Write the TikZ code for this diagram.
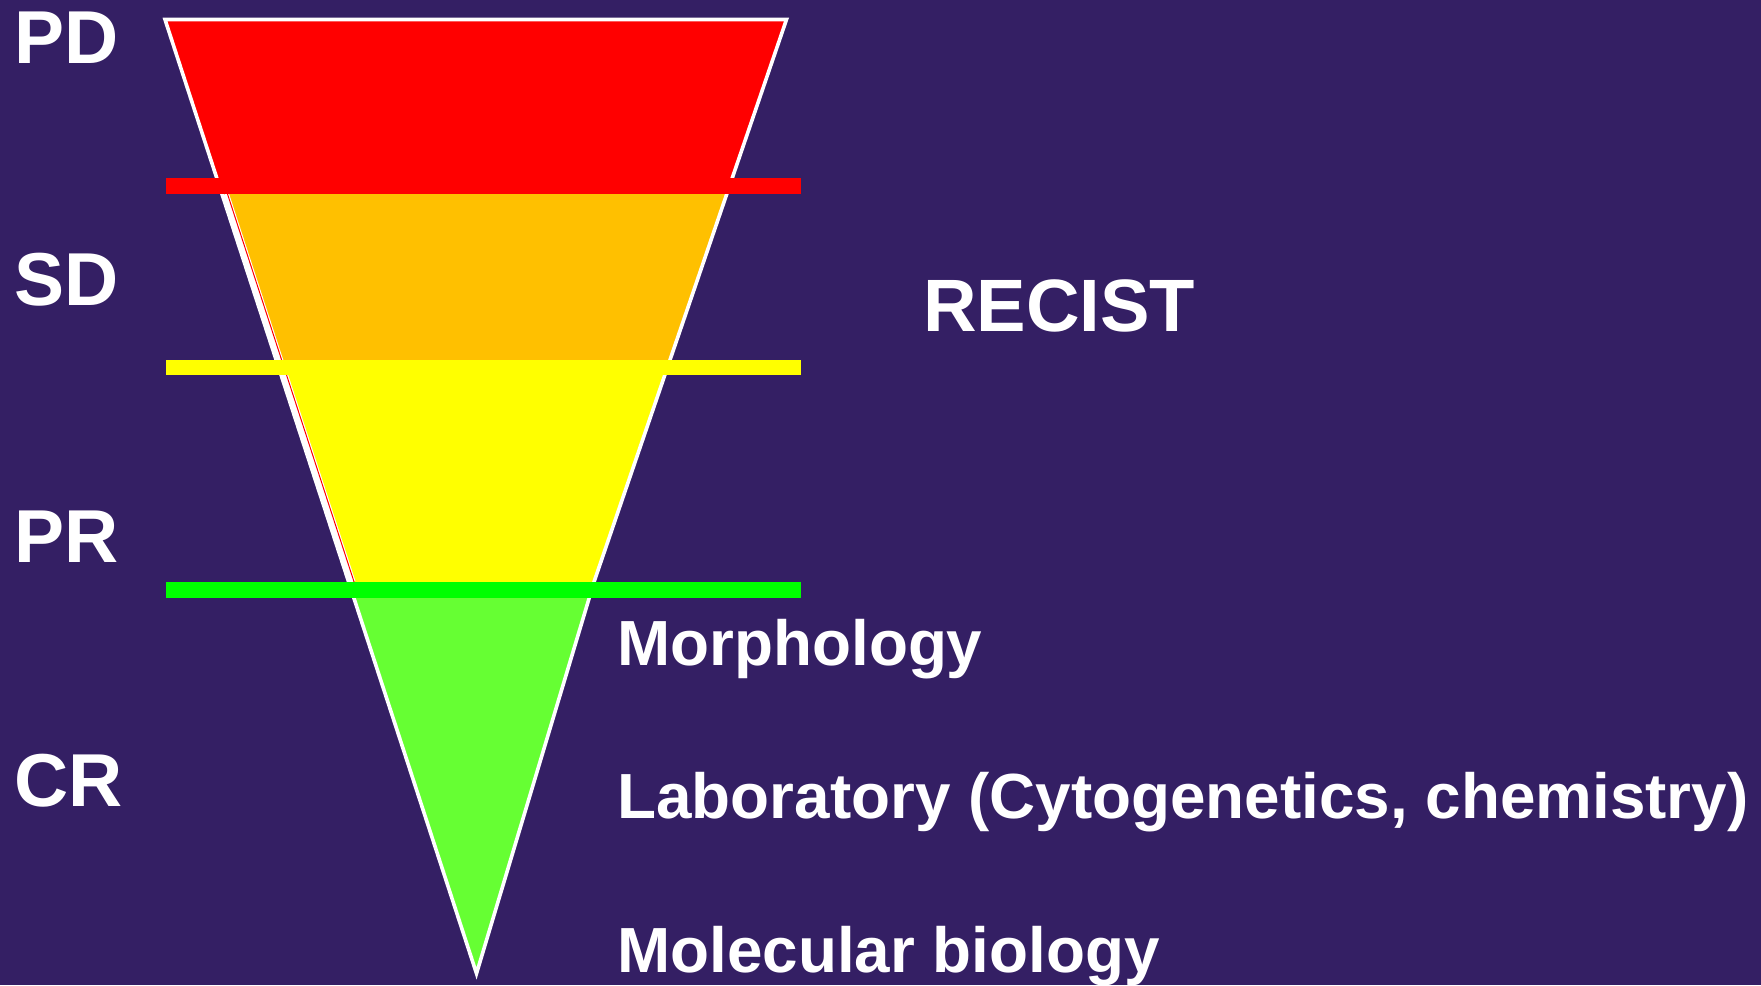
\documentclass[tikz,border=0pt]{standalone}
\usepackage{fontspec}
\setmainfont{Liberation Sans}
\definecolor{bg}{RGB}{52,31,100}
\definecolor{cred}{RGB}{255,0,0}
\definecolor{corange}{RGB}{255,192,0}
\definecolor{cyellow}{RGB}{255,255,0}
\definecolor{cgreen}{RGB}{102,255,51}
\definecolor{cgreenbar}{RGB}{0,255,0}
\tikzset{
  lab/.style={text=white, anchor=base west, inner sep=0pt, outer sep=0pt,
    font=\fontsize{37.5}{45}\selectfont\bfseries},
  bigtxt/.style={text=white, anchor=base west, inner sep=0pt, outer sep=0pt,
    font=\fontsize{37.1}{44}\selectfont\bfseries},
  bodytxt/.style={text=white, anchor=base west, inner sep=0pt, outer sep=0pt,
    font=\fontsize{31.9}{38}\selectfont\bfseries},
  outline/.style={draw=white, line width=1.8pt, line join=miter}
}
\begin{document}
\begin{tikzpicture}[x=0.5pt,y=-0.5pt]
\fill[bg] (0,0) rectangle (1761,985);
\useasboundingbox (0,0) rectangle (1761,985);
% funnel corners
\coordinate (tl) at (165,19.5);
\coordinate (tr) at (786.5,19.5);
\coordinate (kr) at (594,582);
\coordinate (ap) at (476.5,973.5);
% funnel bands
\begin{scope}
  \clip (tl) -- (tr) -- (kr) -- (ap) -- cycle;
  \fill[cred] (0,0) rectangle (1761,190);
  \fill[corange] (0,190) rectangle (1761,368);
  \fill[cyellow] (0,368) rectangle (1761,590);
  \fill[cgreen] (0,590) rectangle (1761,985);
\end{scope}
% funnel outline
\draw[outline] (tl) -- (tr) -- (kr) -- (ap) -- cycle;
% misregistered inner edge on the left
\draw[white, line width=3pt] (226,194) -- (352.6,582);
\draw[cred, line width=0.5pt] (227.5,194) -- (354.1,582);
% threshold bars
\fill[cred] (166,178.3) rectangle (801,193.7);
\fill[cyellow] (166,360) rectangle (801,375.3);
\fill[cgreenbar] (166,582) rectangle (801,597.7);
% labels
\node[lab] (PD) at (14,63.5) {PD};
\node[lab] (SD) at (14,305) {SD};
\node[lab] (PR) at (14,562) {PR};
\node[lab] (CR) at (14,806.5) {CR};
\node[bigtxt] (recist) at (923,331) {RECIST};
\node[bodytxt] (morph) at (617.4,665) {Morphology};
\node[bodytxt] (labo) at (617.4,818) {Laboratory (Cytogenetics, chemistry)};
\node[bodytxt] (molbio) at (617.4,972) {Molecular biology};
\end{tikzpicture}
\end{document}
